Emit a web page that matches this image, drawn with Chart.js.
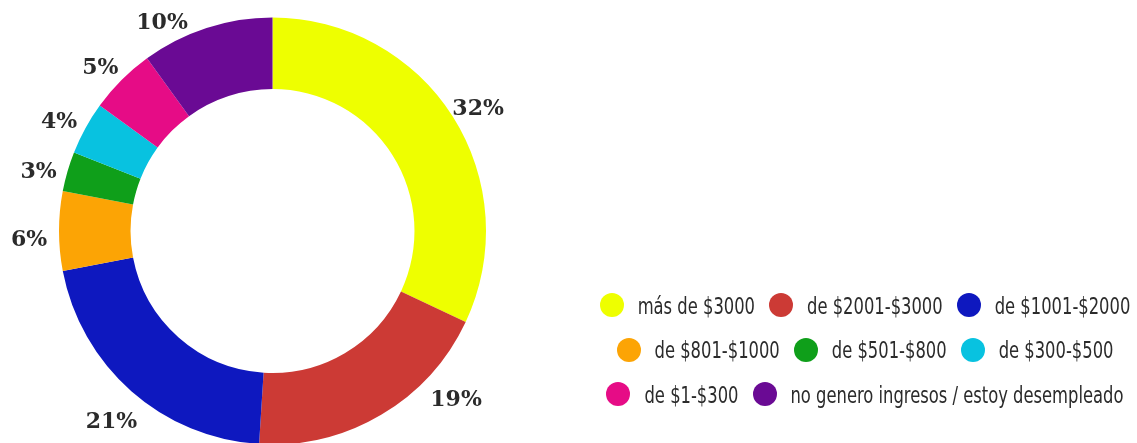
<!DOCTYPE html>
<html lang="es">
<head>
    <meta charset="UTF-8">
    <title>Ingresos</title>
    <script src="https://cdn.jsdelivr.net/npm/chart.js"></script>
    <style>
        html, body { margin: 0; padding: 0; background: #fff; overflow: hidden; }
        #wrap { position: relative; width: 1137px; height: 443px; overflow: hidden; }
        #ingresos { position: absolute; left: 0; top: 0; }
        #legend { position: absolute; left: 590px; top: 283px; width: 550px; display: flex; flex-wrap: wrap; justify-content: center; font-family: "DejaVu Sans Condensed", "Liberation Sans Narrow", sans-serif; font-size: 18.2px; color: #2b2b2b; }
        .legend-item { display: flex; align-items: center; height: 44.5px; margin: 0 7px; white-space: nowrap; }
        .legend-dot { width: 24px; height: 24px; border-radius: 50%; margin-right: 14px; }
        .legend-text { display: inline-block; transform: scaleY(1.28); }
    </style>
</head>
<body>
<div id="wrap">
    <canvas id="ingresos" width="1137" height="446"></canvas>
    <div id="legend"></div>
</div>
<script>
    const categories = ["más de $3000", "de $2001-$3000", "de $1001-$2000", "de $801-$1000",
        "de $501-$800", "de $300-$500", "de $1-$300", "no genero ingresos / estoy desempleado"];
    const shares = [32, 19, 21, 6, 3, 4, 5, 10];
    const sliceColors = ["#eeff00", "#cc3a35", "#0e18bf", "#fca405", "#0f9f1a", "#08c2e0", "#e60c86", "#6a0a94"];

    // porcentajes alrededor del anillo
    const outsideLabels = {
        id: "outsideLabels",
        afterDatasetsDraw(chart) {
            const ctx = chart.ctx;
            const meta = chart.getDatasetMeta(0);
            const half = 9;
            ctx.save();
            ctx.font = "bold 22px 'DejaVu Serif', serif";
            ctx.fillStyle = "#2b2b2b";
            ctx.textAlign = "center";
            ctx.textBaseline = "middle";
            meta.data.forEach((arc, i) => {
                const p = arc.getProps(["x", "y", "startAngle", "endAngle", "outerRadius"], true);
                const mid = (p.startAngle + p.endAngle) / 2;
                const d = p.outerRadius + 30;
                let ax = p.x + Math.cos(mid) * d;
                let ay = p.y + Math.sin(mid) * d;
                let cy = ay + half;
                // si se corta, se desliza por el mismo círculo
                let moved = false;
                if (cy - half < 14) { cy = 23; moved = true; }
                if (cy + half > 443) { cy = 400; moved = true; }
                if (moved) {
                    ay = cy - half;
                    const dx = Math.sqrt(Math.max(0, d * d - (ay - p.y) * (ay - p.y)));
                    ax = p.x + (Math.cos(mid) >= 0 ? dx : -dx);
                }
                ctx.fillText(shares[i] + "%", ax, cy);
            });
            ctx.restore();
        }
    };

    const chart = new Chart(document.getElementById("ingresos"), {
        type: "doughnut",
        data: {
            labels: categories,
            datasets: [{
                data: shares,
                backgroundColor: sliceColors,
                borderWidth: 0
            }]
        },
        options: {
            responsive: false,
            animation: false,
            devicePixelRatio: 1,
            cutout: "66.5%",
            layout: { padding: { top: 17.5, bottom: 1.5, left: 59, right: 651 } },
            plugins: {
                legend: { display: false },
                tooltip: { enabled: false }
            }
        },
        plugins: [outsideLabels]
    });

    // leyenda en HTML a la derecha
    const legendBox = document.getElementById("legend");
    chart.options.plugins.legend.labels.generateLabels(chart).forEach(item => {
        const el = document.createElement("div");
        el.className = "legend-item";
        el.innerHTML = `<span class="legend-dot" style="background:${item.fillStyle}"></span><span class="legend-text">${item.text}</span>`;
        legendBox.appendChild(el);
    });
</script>
</body>
</html>
